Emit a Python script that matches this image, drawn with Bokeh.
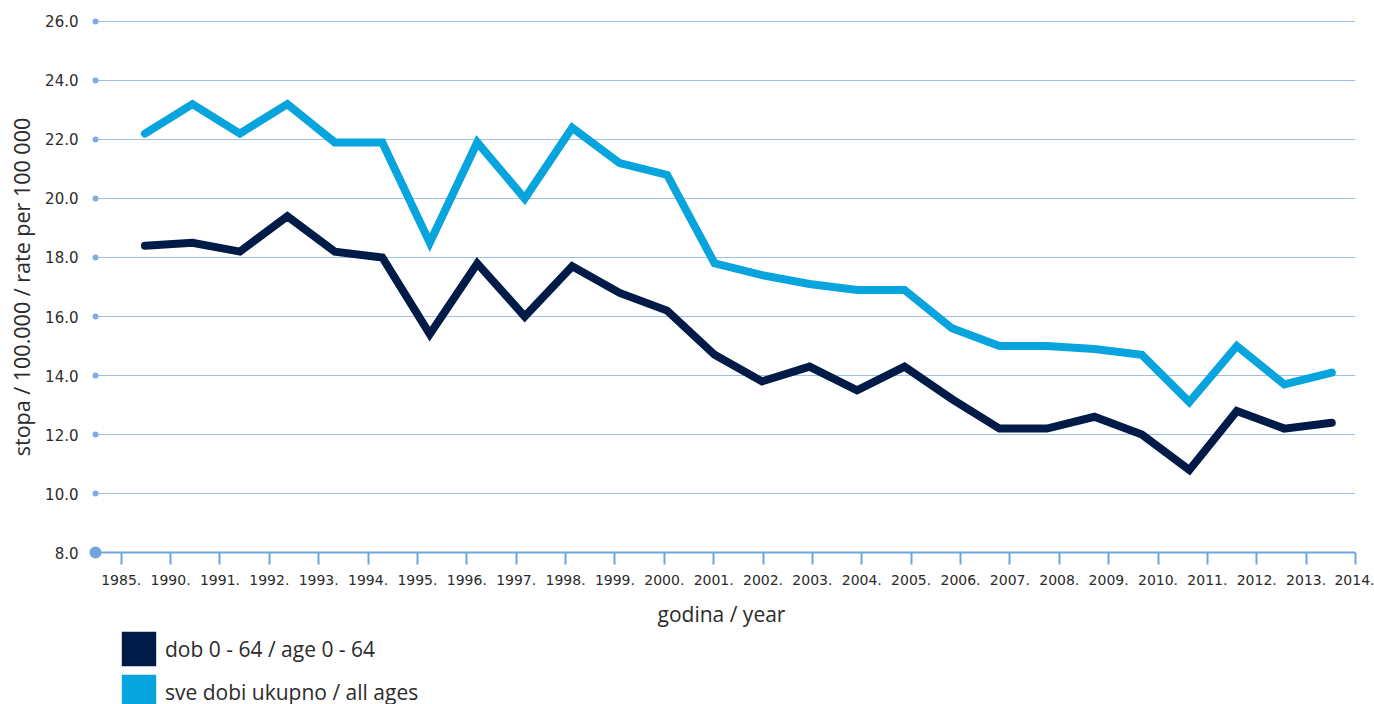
from bokeh.plotting import figure
from bokeh.layouts import column
from bokeh.models import (Range1d, FixedTicker, Legend, LegendItem,
                          PrintfTickFormatter, CustomJSTickFormatter)
from bokeh.embed import file_html
from bokeh.resources import INLINE

# ---------------- data ----------------
years = ["1985.", "1990.", "1991.", "1992.", "1993.", "1994.", "1995.",
         "1996.", "1997.", "1998.", "1999.", "2000.", "2001.", "2002.",
         "2003.", "2004.", "2005.", "2006.", "2007.", "2008.", "2009.",
         "2010.", "2011.", "2012.", "2013.", "2014."]
age_0_64 = [18.4, 18.5, 18.2, 19.4, 18.2, 18.0, 15.4, 17.8, 16.0, 17.7,
            16.8, 16.2, 14.7, 13.8, 14.3, 13.5, 14.3, 13.2, 12.2, 12.2,
            12.6, 12.0, 10.8, 12.8, 12.2, 12.4]
all_ages = [22.2, 23.2, 22.2, 23.2, 21.9, 21.9, 18.5, 21.9, 20.0, 22.4,
            21.2, 20.8, 17.8, 17.4, 17.1, 16.9, 16.9, 15.6, 15.0, 15.0,
            14.9, 14.7, 13.1, 15.0, 13.7, 14.1]
y_ticks = [8, 10, 12, 14, 16, 18, 20, 22, 24, 26]
series_labels = ["dob 0 - 64 / age 0 - 64", "sve dobi ukupno / all ages"]

# ---------------- style ----------------
DARK = "#001b47"
LIGHT = "#08a4de"
GRID = "#9cc0e8"
AXIS = "#6fa5dc"
DOT = "#7eaee0"
TXT = "#2b2b2b"
FONT = "Open Sans"
TICKFONT = "DejaVu Sans"

n = len(years)
xs = [i + 0.5 for i in range(n)]
tick_pos = [j * n / (n - 1) for j in range(n)]

x_dot = -0.541          # left end of grid lines (dot column)
x_start = -0.71
x_end = float(n)
y_lo, y_hi = 7.763, 26.237

p = figure(width=1374, height=630,
           x_range=Range1d(x_start, x_end), y_range=Range1d(y_lo, y_hi),
           output_backend="svg", toolbar_location=None,
           min_border_left=87, min_border_right=19,
           min_border_top=14, min_border_bottom=71)
p.outline_line_color = None
p.xgrid.visible = False
p.ygrid.visible = False
p.background_fill_color = "white"
p.border_fill_color = "white"

# grid lines (from dot column to the right edge)
grid_vals = [v for v in y_ticks if v != y_ticks[0]]
p.segment(x0=[x_dot] * len(grid_vals), x1=[x_end] * len(grid_vals),
          y0=grid_vals, y1=grid_vals, line_color=GRID, line_width=1)
# baseline (x axis line)
p.segment(x0=[x_dot], x1=[x_end], y0=[y_ticks[0]], y1=[y_ticks[0]],
          line_color=AXIS, line_width=2)

# series
p.line(xs, age_0_64, line_color=DARK, line_width=8,
       line_join="miter", line_cap="round")
p.line(xs, all_ages, line_color=LIGHT, line_width=8,
       line_join="miter", line_cap="round")

# dots on the y axis
p.scatter([x_dot] * len(grid_vals), grid_vals, size=6,
          fill_color=DOT, line_color=None)
p.scatter([x_dot], [y_ticks[0]], size=12, fill_color=AXIS, line_color=None)

# x axis
xa = p.xaxis[0]
xa.ticker = FixedTicker(ticks=tick_pos)
xa.formatter = CustomJSTickFormatter(args=dict(labels=years, n=n), code="""
    const i = Math.round(tick * (n - 1) / n);
    return (i >= 0 && i < labels.length) ? labels[i] : "";
""")
xa.axis_line_color = None
xa.major_tick_line_color = AXIS
xa.major_tick_line_width = 2
xa.major_tick_in = 7
xa.major_tick_out = 5
xa.minor_tick_line_color = None
xa.major_label_standoff = 10
xa.major_label_text_font = TICKFONT
xa.major_label_text_font_size = "14px"
xa.major_label_text_color = TXT
xa.axis_label = "godina / year"
xa.axis_label_text_font = FONT
xa.axis_label_text_font_size = "21px"
xa.axis_label_text_font_style = "normal"
xa.axis_label_text_color = TXT
xa.axis_label_standoff = 12

# y axis
ya = p.yaxis[0]
ya.ticker = FixedTicker(ticks=y_ticks)
ya.formatter = PrintfTickFormatter(format="%.1f")
ya.axis_line_color = None
ya.major_tick_line_color = None
ya.minor_tick_line_color = None
ya.major_tick_out = 0
ya.major_tick_in = 0
ya.major_label_standoff = 9
ya.major_label_text_font = TICKFONT
ya.major_label_text_font_size = "15px"
ya.major_label_text_color = TXT
ya.axis_label = "stopa / 100.000 / rate per 100 000"
ya.axis_label_text_font = FONT
ya.axis_label_text_font_size = "21.5px"
ya.axis_label_text_font_style = "normal"
ya.axis_label_text_color = TXT
ya.axis_label_standoff = 6

# ---------------- legend strip ----------------
lf = figure(width=1374, height=74, x_range=Range1d(0, 1), y_range=Range1d(0, 1),
            output_backend="svg", toolbar_location=None,
            x_axis_location=None, y_axis_location=None, min_border=0)
lf.outline_line_color = None
lf.xgrid.visible = False
lf.ygrid.visible = False
nan = float("nan")
sw1 = lf.quad(left=[nan], right=[nan], bottom=[nan], top=[nan],
              fill_color=DARK, line_color=None)
sw2 = lf.quad(left=[nan], right=[nan], bottom=[nan], top=[nan],
              fill_color=LIGHT, line_color=None)
legend = Legend(items=[LegendItem(label=series_labels[0], renderers=[sw1]),
                       LegendItem(label=series_labels[1], renderers=[sw2])],
                location=(30, -9), orientation="vertical",
                glyph_width=43, glyph_height=43, spacing=0,
                padding=0, margin=0,
                label_standoff=5, label_text_font=FONT,
                label_text_font_size="21px", label_text_color=TXT,
                border_line_color=None, background_fill_alpha=0)
lf.add_layout(legend)

layout = column(p, lf, spacing=0)
open("out.html", "w").write(file_html(layout, INLINE))
